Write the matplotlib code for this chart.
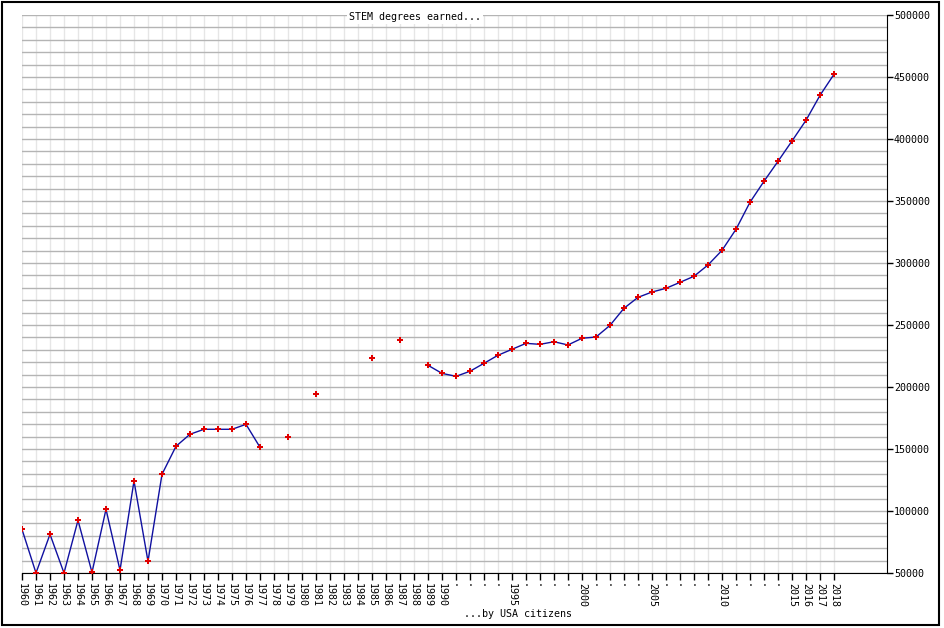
import numpy as np
import matplotlib
matplotlib.use("Agg")
import matplotlib.pyplot as plt
from matplotlib.patches import Rectangle

# STEM degrees earned by USA citizens (NaN = no data for that year)
years = list(range(1960, 2019))
degrees = [
    85200, 50000, 81200, 50000, 92500, 50500, 101400, 52200, 124200, 59400,   # 1960s
    129600, 152200, 161900, 165900, 165900, 165900, 169900, 151400, np.nan, 159400,  # 1970s
    np.nan, 194100, np.nan, np.nan, np.nan, 223100, np.nan, 237700, np.nan, 217500,  # 1980s
    211000, 208600, 212700, 219100, 225600, 230400, 235200, 234400, 236500, 233900,  # 1990s
    239300, 240300, 249700, 263500, 272300, 276600, 279600, 284400, 289300, 298400,  # 2000s
    310200, 327200, 349000, 365900, 382000, 398400, 415100, 435200, 452200,          # 2010s
]
labelled_years = list(range(1960, 1991)) + [1995, 2000, 2005, 2010, 2015, 2016, 2017, 2018]

W, H = 944, 628
fig = plt.figure(figsize=(W / 100, H / 100), dpi=100)
fig.patch.set_facecolor("white")

# plot box in pixel coords
left, right, top, bottom = 22, 887, 15, 573
ax = fig.add_axes([left / W, (H - bottom) / H, (right - left) / W, (bottom - top) / H])

mono = "DejaVu Sans Mono"
fs = 7.2

ax.plot(years, degrees, color="#1010a0", lw=1.0, zorder=3)
ax.plot(years, degrees, ls="none", marker="P", ms=4.5, color="#e00000",
        markeredgewidth=0, zorder=4)

ax.set_xlim(1960, 1960 + (right - left) / 14)
ax.set_ylim(50000, 500000)

# x axis: tick every year, year labels or dots
ax.set_xticks(years)
ax.set_xticklabels([str(y) if y in labelled_years else "." for y in years],
                   rotation=-90, fontfamily=mono, fontsize=fs, va="top", ha="center")
ax.tick_params(axis="x", direction="out", length=5, width=1, pad=2, color="black")

# y axis on the right
ax.yaxis.tick_right()
ax.set_yticks(np.arange(50000, 500001, 50000))
ax.set_yticks(np.arange(50000, 500001, 10000), minor=True)
ax.set_yticklabels([str(v) for v in np.arange(50000, 500001, 50000)],
                   fontfamily=mono, fontsize=fs)
ax.tick_params(axis="y", which="major", direction="out", length=4, width=1, pad=1)
ax.tick_params(axis="y", which="minor", length=0)

ax.grid(axis="x", color="#e6e6e6", lw=1.0, zorder=0)
ax.grid(axis="y", which="both", color="#b4b4b4", lw=1.0, zorder=0)
ax.set_axisbelow(True)

for s in ["top", "left"]:
    ax.spines[s].set_visible(False)
ax.spines["bottom"].set_color("black")
ax.spines["right"].set_color("black")

# titles
fig.text(415 / W, 1 - 17 / H, "STEM degrees earned...", fontfamily=mono, fontsize=fs,
         ha="center", va="center",
         bbox=dict(facecolor="white", edgecolor="none", pad=1.5), zorder=5)
fig.text(518 / W, 1 - 614 / H, "...by USA citizens", fontfamily=mono, fontsize=fs,
         ha="center", va="center")

# image border
fig.patches.append(Rectangle((2 / W, 3 / H), 937 / W, 623 / H, transform=fig.transFigure,
                             fill=False, edgecolor="black", lw=1.5))

fig.savefig("out.png", dpi=100)
